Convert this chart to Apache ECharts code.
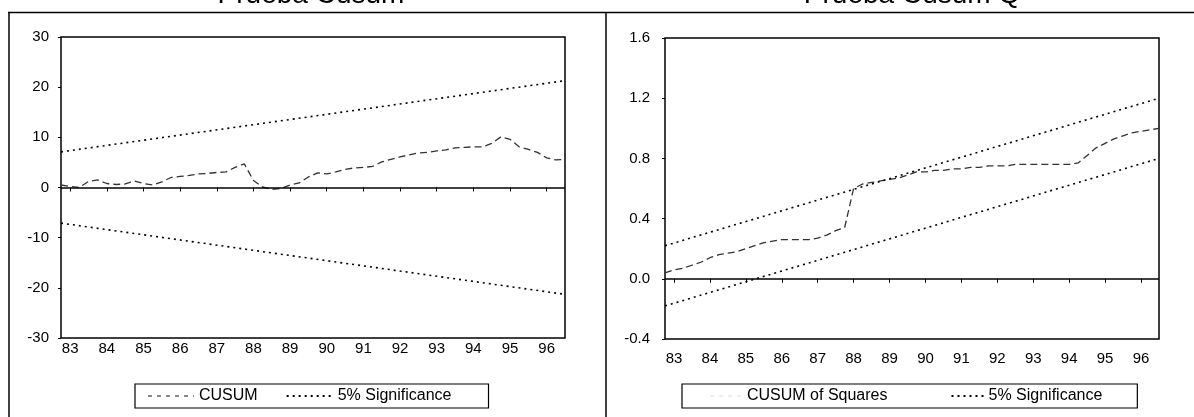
<!DOCTYPE html>
<html>
<head>
<meta charset="utf-8">
<script src="https://cdn.jsdelivr.net/npm/echarts@6/dist/echarts.min.js"></script>
<style>
  html, body { margin: 0; padding: 0; background: #fff; }
  #chart { width: 1194px; height: 417px; }
</style>
</head>
<body>
<div id="chart"></div>
<script>
// Quarterly observations, 1982Q4 - 1996Q3
const periods = [
  '1982Q4',
  '1983Q1','1983Q2','1983Q3','1983Q4',
  '1984Q1','1984Q2','1984Q3','1984Q4',
  '1985Q1','1985Q2','1985Q3','1985Q4',
  '1986Q1','1986Q2','1986Q3','1986Q4',
  '1987Q1','1987Q2','1987Q3','1987Q4',
  '1988Q1','1988Q2','1988Q3','1988Q4',
  '1989Q1','1989Q2','1989Q3','1989Q4',
  '1990Q1','1990Q2','1990Q3','1990Q4',
  '1991Q1','1991Q2','1991Q3','1991Q4',
  '1992Q1','1992Q2','1992Q3','1992Q4',
  '1993Q1','1993Q2','1993Q3','1993Q4',
  '1994Q1','1994Q2','1994Q3','1994Q4',
  '1995Q1','1995Q2','1995Q3','1995Q4',
  '1996Q1','1996Q2','1996Q3'
];

// Recursive-residual CUSUM
const cusum = [
  0.5, 0.2, 0.0, 1.2, 1.5, 0.8, 0.6, 0.7, 1.3, 0.8,
  0.5, 1.1, 2.0, 2.2, 2.4, 2.7, 2.8, 3.0, 3.1, 4.0,
  4.7, 1.4, 0.1, -0.4, -0.2, 0.5, 0.9, 2.1, 2.9, 2.7,
  3.1, 3.6, 3.9, 4.0, 4.2, 5.1, 5.6, 6.1, 6.5, 6.9,
  7.0, 7.3, 7.5, 7.9, 8.0, 8.1, 8.1, 8.8, 10.1, 9.6,
  8.1, 7.6, 7.0, 5.9, 5.5, 5.6
];
// 5% bounds at first and last observation
const cusumUpper = [7.1, 21.3];
const cusumLower = [-7.1, -21.3];

// CUSUM of squares
const cusumSq = [
  0.04, 0.06, 0.07, 0.09, 0.11, 0.14, 0.16, 0.17, 0.18, 0.20,
  0.22, 0.24, 0.25, 0.26, 0.26, 0.26, 0.26, 0.27, 0.29, 0.32,
  0.34, 0.60, 0.63, 0.64, 0.65, 0.66, 0.67, 0.69, 0.71, 0.71,
  0.72, 0.72, 0.73, 0.73, 0.74, 0.74, 0.75, 0.75, 0.75, 0.76,
  0.76, 0.76, 0.76, 0.76, 0.76, 0.76, 0.77, 0.82, 0.87, 0.90,
  0.93, 0.95, 0.97, 0.98, 0.99, 1.00
];
const cusumSqUpper = [0.22, 1.20];
const cusumSqLower = [-0.18, 0.80];

const cusumTicks = [-30, -20, -10, 0, 10, 20, 30];
const cusumSqTicks = [-0.4, 0.0, 0.4, 0.8, 1.2, 1.6];

const FONT = '"Liberation Sans", Arial, sans-serif';
const first = periods[0], last = periods[periods.length - 1];
const isYearStart = (idx, val) => val.endsWith('Q1');
const ends = (vals) => [[first, vals[0]], [last, vals[1]]];

const sigStyle = { color: '#000', width: 1.6, type: [2, 4] };
const cusumStyle = { color: '#333', width: 1.3, type: [7, 4] };
const zeroLine = {
  silent: true, symbol: 'none', label: { show: false },
  lineStyle: { color: '#000', width: 1.5, type: 'solid' },
  data: [{ yAxis: 0 }]
};

function xAxisFor(gridIndex, margin) {
  return {
    type: 'category', gridIndex, data: periods, boundaryGap: false,
    axisLine: { show: false },
    axisTick: { show: true, interval: isYearStart, length: 4, lineStyle: { color: '#000' } },
    axisLabel: {
      interval: isYearStart, margin,
      formatter: v => v.slice(2, 4),
      color: '#000', fontFamily: FONT, fontSize: 15
    },
    splitLine: { show: false }
  };
}

function legendFor(left, items, itemWidth, itemGap, padding) {
  return {
    left, top: 384, orient: 'horizontal',
    data: items,
    itemWidth, itemHeight: 12, itemGap, padding,
    itemStyle: { opacity: 0 },
    borderColor: '#000', borderWidth: 1.2,
    textStyle: { color: '#000', fontFamily: FONT, fontSize: 16 },
    selectedMode: false
  };
}

const chart = echarts.init(document.getElementById('chart'), null, { renderer: 'canvas' });
chart.setOption({
  animation: false,
  backgroundColor: '#fff',
  color: ['#000'],
  graphic: [
    { type: 'line', shape: { x1: 8, y1: 12.5, x2: 1194, y2: 12.5 }, style: { stroke: '#000', lineWidth: 1.5 } },
    { type: 'line', shape: { x1: 9, y1: 12, x2: 9, y2: 417 }, style: { stroke: '#000', lineWidth: 1.5 } },
    { type: 'line', shape: { x1: 606, y1: 12, x2: 606, y2: 417 }, style: { stroke: '#000', lineWidth: 1.5 } },
    { type: 'text', style: { x: 311, y: -5, text: 'Prueba Cusum', font: '28px ' + FONT, fill: '#000', align: 'center', verticalAlign: 'middle' } },
    { type: 'text', style: { x: 912, y: -5, text: 'Prueba Cusum Q', font: '28px ' + FONT, fill: '#000', align: 'center', verticalAlign: 'middle' } }
  ],
  grid: [
    { left: 61, top: 37, width: 504, height: 301, show: true, borderColor: '#000', borderWidth: 1.5, backgroundColor: 'transparent' },
    { left: 665, top: 38, width: 494, height: 301, show: true, borderColor: '#000', borderWidth: 1.5, backgroundColor: 'transparent' }
  ],
  legend: [
    legendFor(135, [
      { name: 'CUSUM', lineStyle: { color: '#888', type: [4, 5] } },
      '5% Significance'
    ], 46, 28, [4, 37, 4, 12]),
    legendFor(682, [
      { name: 'CUSUM of Squares', lineStyle: { color: '#eee', type: [4, 5] } },
      '5% Significance'
    ], 32, 63, [4, 35, 4, 27])
  ],
  xAxis: [xAxisFor(0, 3), xAxisFor(1, 12)],
  yAxis: [
    {
      type: 'value', gridIndex: 0,
      min: cusumTicks[0], max: cusumTicks[cusumTicks.length - 1], interval: 10,
      axisLine: { show: false },
      axisTick: { show: true, length: 3, lineStyle: { color: '#000' } },
      axisLabel: { margin: 12, color: '#000', fontFamily: FONT, fontSize: 15 },
      splitLine: { show: false }
    },
    {
      type: 'value', gridIndex: 1,
      min: cusumSqTicks[0], max: cusumSqTicks[cusumSqTicks.length - 1], interval: 0.4,
      axisLine: { show: false },
      axisTick: { show: true, length: 3, lineStyle: { color: '#000' } },
      axisLabel: { margin: 15, color: '#000', fontFamily: FONT, fontSize: 15, formatter: v => v.toFixed(1) },
      splitLine: { show: false }
    }
  ],
  series: [
    {
      name: 'CUSUM', type: 'line', xAxisIndex: 0, yAxisIndex: 0,
      data: cusum, symbol: 'none', lineStyle: cusumStyle, itemStyle: { color: '#333' }, markLine: zeroLine, z: 3
    },
    { name: '5% Significance', type: 'line', xAxisIndex: 0, yAxisIndex: 0, data: ends(cusumUpper), symbol: 'none', lineStyle: sigStyle, itemStyle: { color: '#000' } },
    { name: '5% Significance', type: 'line', xAxisIndex: 0, yAxisIndex: 0, data: ends(cusumLower), symbol: 'none', lineStyle: sigStyle, itemStyle: { color: '#000' } },
    {
      name: 'CUSUM of Squares', type: 'line', xAxisIndex: 1, yAxisIndex: 1,
      data: cusumSq, symbol: 'none', lineStyle: cusumStyle, itemStyle: { color: '#333' }, markLine: zeroLine, z: 3
    },
    { name: '5% Significance', type: 'line', xAxisIndex: 1, yAxisIndex: 1, data: ends(cusumSqUpper), symbol: 'none', lineStyle: sigStyle, itemStyle: { color: '#000' } },
    { name: '5% Significance', type: 'line', xAxisIndex: 1, yAxisIndex: 1, data: ends(cusumSqLower), symbol: 'none', lineStyle: sigStyle, itemStyle: { color: '#000' } }
  ]
});
</script>
</body>
</html>
